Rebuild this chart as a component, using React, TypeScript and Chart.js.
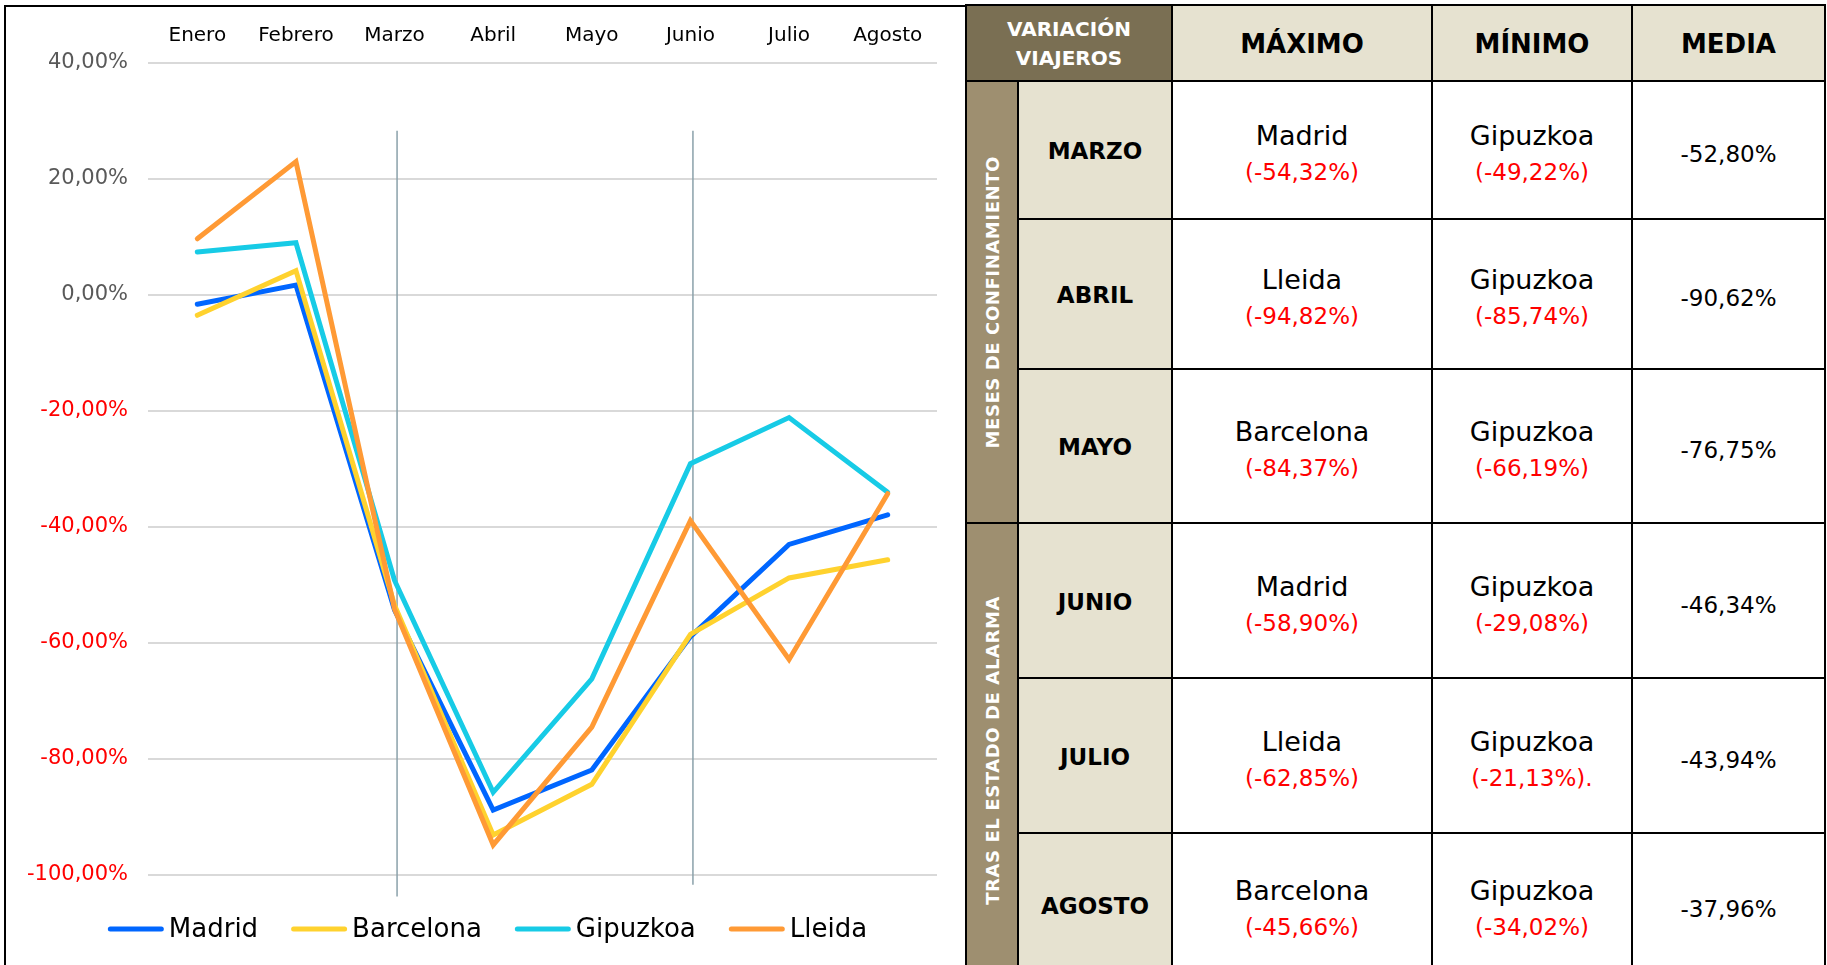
import React, { useEffect, useRef } from 'react';
import { Chart, registerables } from 'chart.js';

Chart.register(...registerables);

// ---------- chart data ----------
const months = ['Enero', 'Febrero', 'Marzo', 'Abril', 'Mayo', 'Junio', 'Julio', 'Agosto'];
const seriesNames = ['Madrid', 'Barcelona', 'Gipuzkoa', 'Lleida'];
const seriesColors = ['#0066ff', '#ffd22e', '#17cbe6', '#ff9a35'];
const madrid = [-1.6, 1.7, -54.32, -88.8, -81.9, -58.9, -43.0, -37.9];
const barcelona = [-3.5, 4.2, -53.5, -93.1, -84.37, -58.5, -48.78, -45.66];
const gipuzkoa = [7.4, 9.0, -49.22, -85.74, -66.19, -29.08, -21.13, -34.02];
const lleida = [9.7, 23.0, -54.16, -94.82, -74.5, -38.9, -62.85, -34.26];
const yMin = -100;
const yMax = 40;
const yStep = 20;
// period separators (confinement start / end of state of alarm)
const markerMonths = ['Marzo', 'Junio'];
const markerTop = [28.3, 28.3];
const markerBottom = [-103.7, -101.7];

// ---------- table data ----------
const tableTitle = ['VARIACIÓN', 'VIAJEROS'];
const tableHeaders = ['MÁXIMO', 'MÍNIMO', 'MEDIA'];
const tableGroups = ['MESES DE CONFINAMIENTO', 'TRAS EL ESTADO DE ALARMA'];
const tableMonths = ['MARZO', 'ABRIL', 'MAYO', 'JUNIO', 'JULIO', 'AGOSTO'];
const maxNames = ['Madrid', 'Lleida', 'Barcelona', 'Madrid', 'Lleida', 'Barcelona'];
const maxValues = ['(-54,32%)', '(-94,82%)', '(-84,37%)', '(-58,90%)', '(-62,85%)', '(-45,66%)'];
const minNames = ['Gipuzkoa', 'Gipuzkoa', 'Gipuzkoa', 'Gipuzkoa', 'Gipuzkoa', 'Gipuzkoa'];
const minValues = ['(-49,22%)', '(-85,74%)', '(-66,19%)', '(-29,08%)', '(-21,13%).', '(-34,02%)'];
const meanValues = ['-52,80%', '-90,62%', '-76,75%', '-46,34%', '-43,94%', '-37,96%'];

const FONT = '"DejaVu Sans", sans-serif';

const fmtPct = (v: number) => v.toFixed(2).replace('.', ',') + '%';

const markerPlugin = {
  id: 'periodMarkers',
  beforeDatasetsDraw(chart: any) {
    const { ctx, scales } = chart;
    const x = scales.x;
    const y = scales.y;
    ctx.save();
    ctx.strokeStyle = '#8aa1aa';
    ctx.lineWidth = 1.5;
    markerMonths.forEach((m, i) => {
      const px = x.getPixelForValue(months.indexOf(m)) + 2.5;
      ctx.beginPath();
      ctx.moveTo(px, y.getPixelForValue(markerTop[i]));
      ctx.lineTo(px, y.getPixelForValue(markerBottom[i]));
      ctx.stroke();
    });
    ctx.restore();
  },
};

const legendPlugin = {
  id: 'bottomLegend',
  afterDraw(chart: any) {
    const ctx = chart.ctx;
    ctx.save();
    ctx.font = `26px ${FONT}`;
    const lineLen = 56;
    const textGap = 5;
    const itemGap = 33;
    const items = chart.data.datasets.map((ds: any) => ({
      label: ds.label,
      color: ds.borderColor,
      w: lineLen + textGap + ctx.measureText(ds.label).width,
    }));
    const total = items.reduce((a: number, it: any) => a + it.w, 0) + itemGap * (items.length - 1);
    let x = chart.width / 2 + 5 - total / 2;
    const y = chart.chartArea.bottom + 54;
    items.forEach((it: any) => {
      ctx.strokeStyle = it.color;
      ctx.lineWidth = 5;
      ctx.lineCap = 'round';
      ctx.beginPath();
      ctx.moveTo(x + 2.5, y);
      ctx.lineTo(x + lineLen - 2.5, y);
      ctx.stroke();
      ctx.fillStyle = '#000';
      ctx.textBaseline = 'middle';
      ctx.textAlign = 'left';
      ctx.fillText(it.label, x + lineLen + textGap, y + 1);
      x += it.w + itemGap;
    });
    ctx.restore();
  },
};

function LineChart() {
  const ref = useRef<HTMLCanvasElement>(null);
  useEffect(() => {
    const series = [madrid, barcelona, gipuzkoa, lleida];
    const chart = new Chart(ref.current as HTMLCanvasElement, {
      type: 'line',
      data: {
        labels: months,
        datasets: series.map((d, i) => ({
          label: seriesNames[i],
          data: d,
          borderColor: seriesColors[i],
          backgroundColor: seriesColors[i],
          borderWidth: 5,
          pointRadius: 0,
          pointHoverRadius: 0,
          tension: 0,
          fill: false,
          order: series.length - 1 - i,
          borderCapStyle: 'round',
          borderJoinStyle: 'miter',
        })),
      },
      options: {
        responsive: false,
        maintainAspectRatio: false,
        animation: false,
        layout: { padding: { left: 0, right: 28, top: 0, bottom: 90 } },
        plugins: {
          legend: { display: false },
          tooltip: { enabled: false },
        },
        scales: {
          x: {
            position: 'top',
            offset: true,
            grid: { display: false, drawTicks: false },
            border: { display: false },
            ticks: {
              color: '#000000',
              font: { family: FONT, size: 20 },
              padding: 15,
              maxRotation: 0,
              autoSkip: false,
            },
            afterFit: (s: any) => {
              s.height = 63;
            },
          },
          y: {
            min: yMin,
            max: yMax,
            grid: { color: '#d9d9d9', lineWidth: 2, drawTicks: false },
            border: { display: false },
            ticks: {
              stepSize: yStep,
              padding: 20,
              font: { family: FONT, size: 21 },
              color: (c: any) => (c.tick && c.tick.value < 0 ? '#ff0000' : '#595959'),
              callback: (v: any) => fmtPct(Number(v)),
            },
            afterFit: (s: any) => {
              s.width = 148;
            },
          },
        },
      } as any,
      plugins: [markerPlugin, legendPlugin],
    });
    return () => chart.destroy();
  }, []);
  return (
    <canvas
      ref={ref}
      width={965}
      height={965}
      style={{ position: 'absolute', left: 0, top: 0, width: 965, height: 965 }}
    />
  );
}

const BEIGE = '#e6e2d0';
const DARK = '#7a6f53';
const TAN = '#9e8f70';

const center: React.CSSProperties = {
  display: 'flex',
  alignItems: 'center',
  justifyContent: 'center',
  textAlign: 'center',
  fontFamily: FONT,
};

function SummaryTable() {
  const rowStarts = [2, 3, 4, 5, 6, 7];
  return (
    <div
      style={{
        position: 'absolute',
        left: 965,
        top: 4,
        background: '#000',
        padding: 2,
        display: 'grid',
        gridTemplateColumns: '50px 152px 258px 198px 191px',
        gridTemplateRows: '74px 136px 148px 152px 153px 153px 142px',
        gap: 2,
      }}
    >
      <div
        style={{
          ...center,
          gridColumn: '1 / 3',
          gridRow: '1',
          background: DARK,
          color: '#fff',
          fontWeight: 'bold',
          fontSize: 20,
          lineHeight: '29px',
          flexDirection: 'column',
          paddingTop: 2,
        }}
      >
        {tableTitle.map((t) => (
          <div key={t}>{t}</div>
        ))}
      </div>
      {tableHeaders.map((h, i) => (
        <div
          key={h}
          style={{
            ...center,
            gridColumn: String(3 + i),
            gridRow: '1',
            background: BEIGE,
            color: '#000',
            fontWeight: 'bold',
            fontSize: 26,
            paddingTop: 2,
          }}
        >
          {h}
        </div>
      ))}
      {tableGroups.map((g, i) => (
        <div
          key={g}
          style={{
            ...center,
            gridColumn: '1',
            gridRow: `${2 + i * 3} / ${5 + i * 3}`,
            background: TAN,
          }}
        >
          <div
            style={{
              writingMode: 'vertical-rl',
              transform: 'rotate(180deg)',
              color: '#fff',
              fontWeight: 'bold',
              fontSize: 18,
              letterSpacing: 0.6,
              whiteSpace: 'nowrap',
              fontFamily: FONT,
            }}
          >
            {g}
          </div>
        </div>
      ))}
      {tableMonths.map((m, i) => (
        <React.Fragment key={m}>
          <div
            style={{
              ...center,
              gridColumn: '2',
              gridRow: String(rowStarts[i]),
              background: BEIGE,
              fontWeight: 'bold',
              fontSize: 23,
              color: '#000',
              paddingTop: 2,
            }}
          >
            {m}
          </div>
          <div
            style={{
              ...center,
              gridColumn: '3',
              gridRow: String(rowStarts[i]),
              background: '#fff',
              flexDirection: 'column',
              paddingTop: 8,
            }}
          >
            <div style={{ fontSize: 27, lineHeight: '36px', color: '#000' }}>{maxNames[i]}</div>
            <div style={{ fontSize: 23, lineHeight: '36px', color: '#ff0000' }}>{maxValues[i]}</div>
          </div>
          <div
            style={{
              ...center,
              gridColumn: '4',
              gridRow: String(rowStarts[i]),
              background: '#fff',
              flexDirection: 'column',
              paddingTop: 8,
            }}
          >
            <div style={{ fontSize: 27, lineHeight: '36px', color: '#000' }}>{minNames[i]}</div>
            <div style={{ fontSize: 23, lineHeight: '36px', color: '#ff0000' }}>{minValues[i]}</div>
          </div>
          <div
            style={{
              ...center,
              gridColumn: '5',
              gridRow: String(rowStarts[i]),
              background: '#fff',
              fontSize: 23,
              color: '#000',
              paddingTop: 8,
            }}
          >
            {meanValues[i]}
          </div>
        </React.Fragment>
      ))}
    </div>
  );
}

export default function App() {
  return (
    <div
      style={{
        position: 'absolute',
        left: 0,
        top: 0,
        width: 1827,
        height: 965,
        overflow: 'hidden',
        background: '#fff',
      }}
    >
      <LineChart />
      <div
        style={{
          position: 'absolute',
          left: 4,
          top: 5,
          width: 970,
          height: 980,
          borderLeft: '2px solid #000',
          borderTop: '2px solid #000',
          boxSizing: 'border-box',
          pointerEvents: 'none',
        }}
      />
      <SummaryTable />
    </div>
  );
}
